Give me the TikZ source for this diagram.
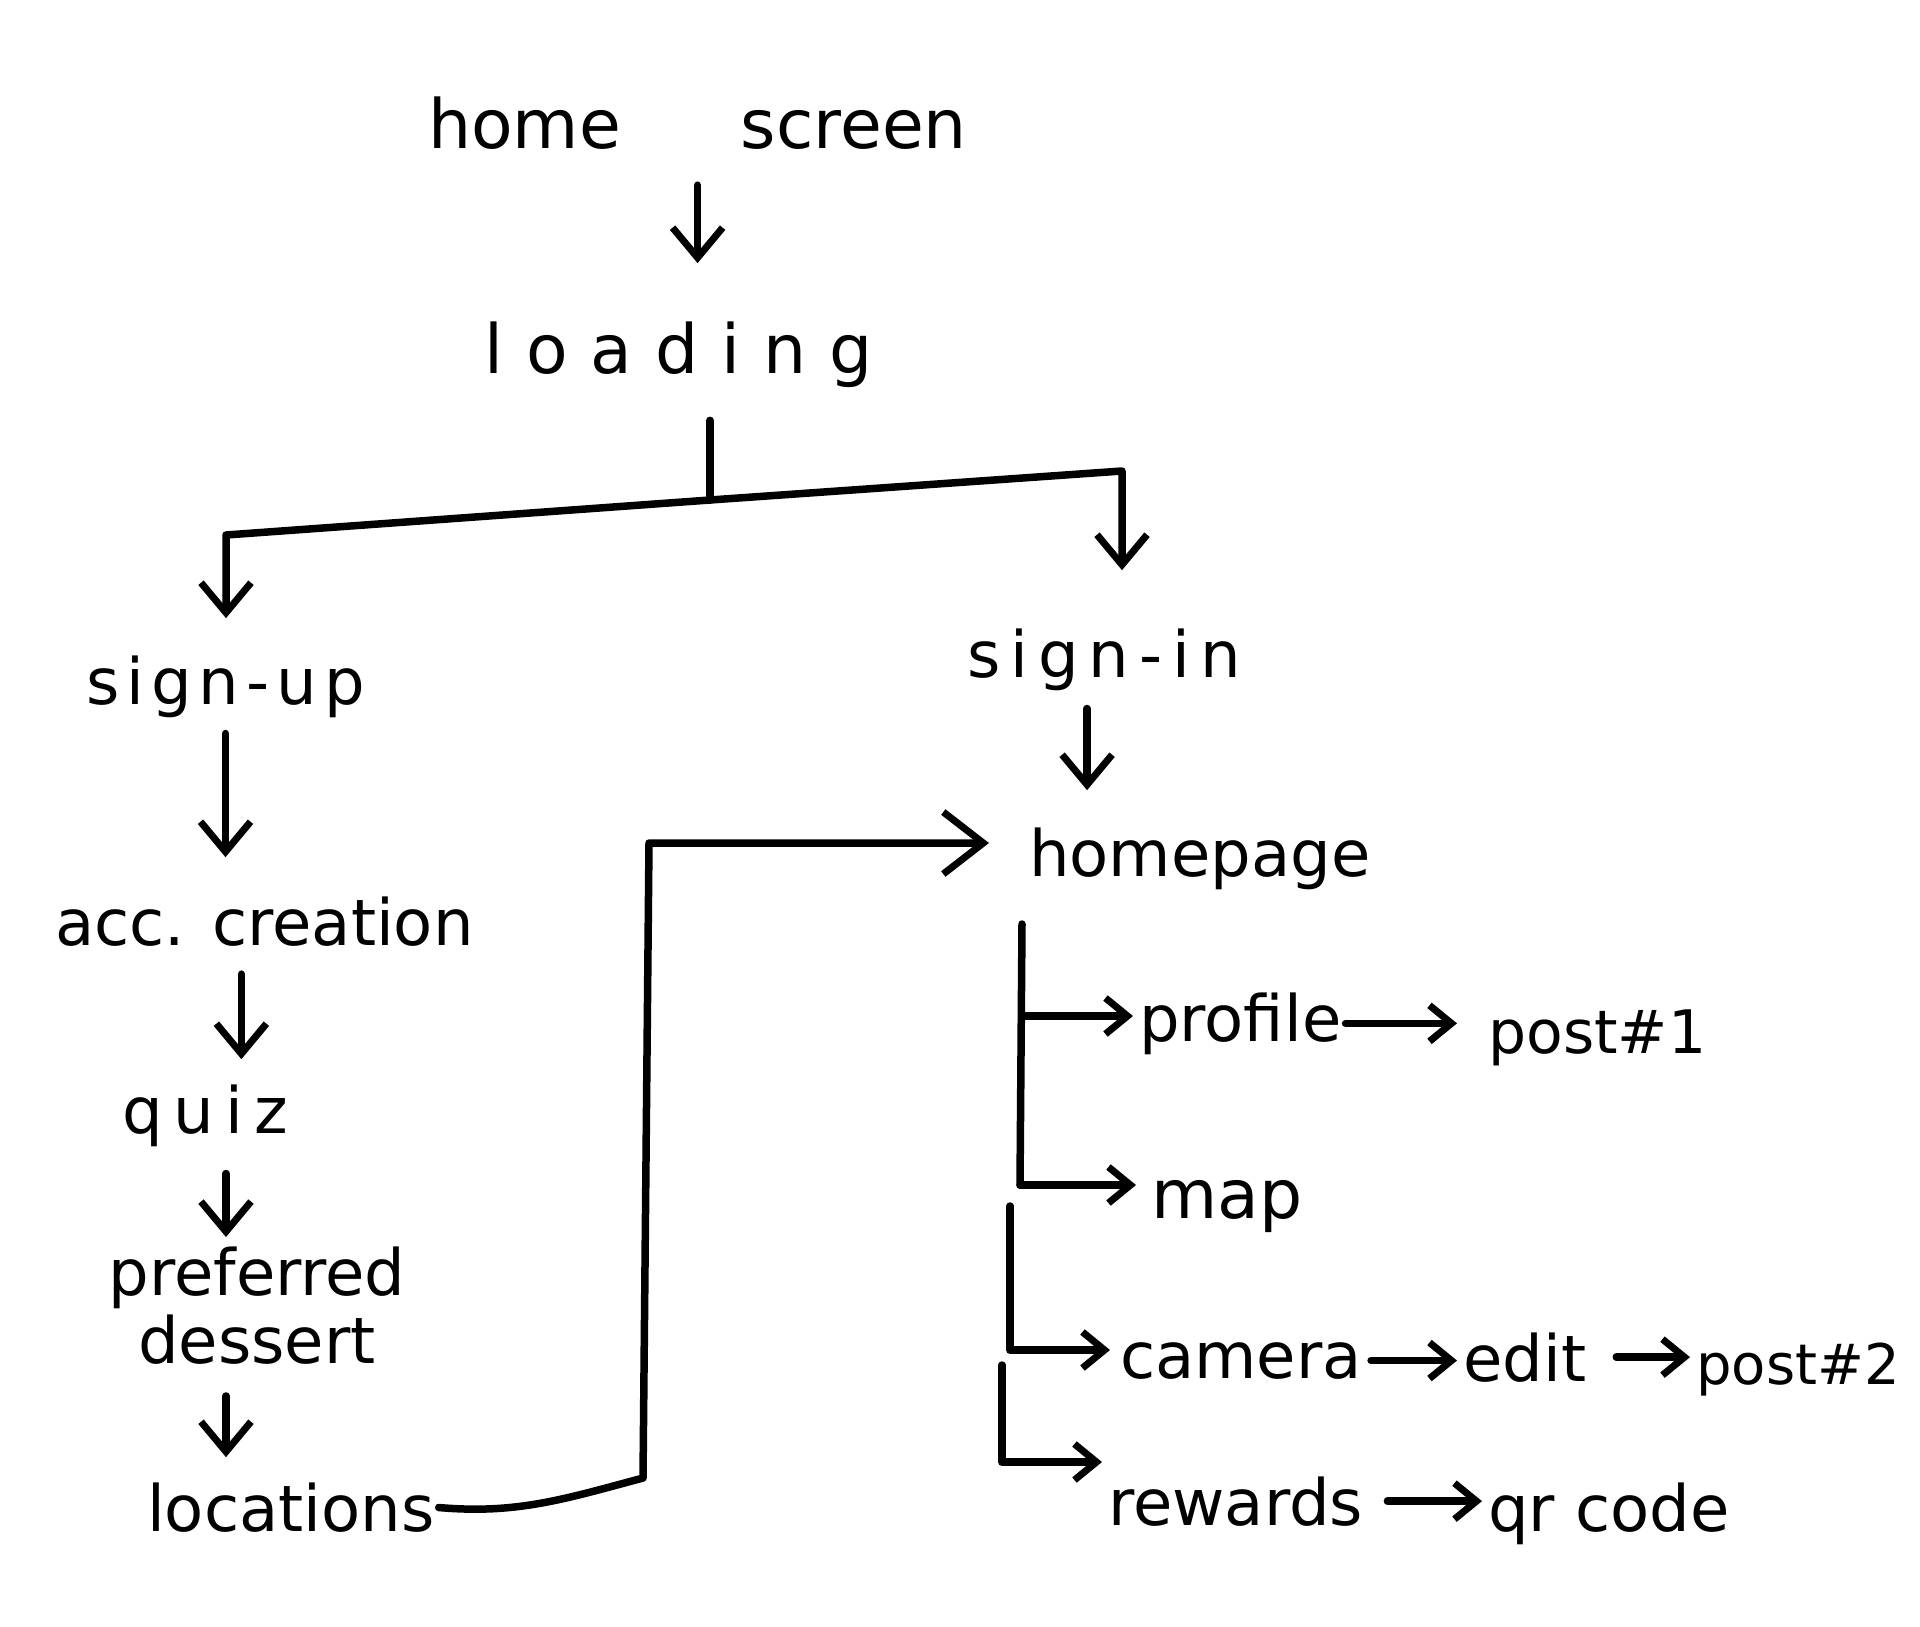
\documentclass[tikz,border=0pt]{standalone}
\usepackage{fontspec}
\setmainfont{DejaVu Sans}
\usetikzlibrary{arrows.meta}
\newdimen\lsp
\newcommand\K{\kern\lsp}
\begin{document}
\begin{tikzpicture}[x=1pt,y=-1pt,
  lbl/.style={inner sep=0pt, font=\fontsize{64}{68}\selectfont, anchor=base west, text=black},
  ln/.style={line width=7.5pt, line cap=round, line join=round},
  arr/.style={ln, -{Straight Barb[length=30pt,width=50pt,line width=7pt]}},
  barr/.style={ln, -{Straight Barb[length=40pt,width=62pt,line width=7pt]}},
  sarr/.style={ln, -{Straight Barb[length=22pt,width=36pt,line width=7pt]}}]
\path[use as bounding box, fill=white] (0,0) rectangle (1920,1626);

% labels
\node[lbl, font=\fontsize{68}{72}\selectfont] (hs) at (428,148) {home\hspace{120pt}screen};
\node[lbl, font=\fontsize{68}{72}\selectfont] (ld) at (484,373) {\lsp=23pt l\K o\K a\K d\K i\K n\K g};
\node[lbl] (su) at (86,704) {\lsp=7pt s\K i\K g\K n\K -\K u\K p};
\node[lbl] (si) at (967,677) {\lsp=10pt s\K i\K g\K n\K -\K i\K n};
\node[lbl] (acc) at (55,945) {acc. creation};
\node[lbl] (qz) at (122,1133) {\lsp=11pt q\K u\K i\K z};
\node[lbl, anchor=center, align=center] (pd) at (257,1306) {preferred\\dessert};
\node[lbl] (loc) at (147,1531) {locations};
\node[lbl] (hp) at (1029,876) {homepage};
\node[lbl] (pr) at (1139,1041) {profile};
\node[lbl, font=\fontsize{60}{64}\selectfont] (p1) at (1488,1053) {post\#1};
\node[lbl, font=\fontsize{68}{72}\selectfont] (mp) at (1151,1218) {map};
\node[lbl] (cam) at (1120,1378) {camera};
\node[lbl] (ed) at (1463,1381) {edit};
\node[lbl, font=\fontsize{56}{60}\selectfont] (p2) at (1696,1384) {post\#2};
\node[lbl] (rw) at (1108,1525) {rewards};
\node[lbl] (qr) at (1488,1531) {qr code};

% junction points
\coordinate (jm) at (710,500);
\coordinate (jl) at (226,535);
\coordinate (jr) at (1122,471);
\coordinate (c1) at (643,1478);
\coordinate (c2) at (649,843);
\coordinate (t1a) at (1022,924);
\coordinate (b1) at (1022,1016);
\coordinate (t1b) at (1020,1185);
\coordinate (t2a) at (1010,1206);
\coordinate (t2b) at (1010,1350);
\coordinate (t3a) at (1002,1365);
\coordinate (t3b) at (1002,1462);

% top
\draw[arr, shorten <=36pt, shorten >=58pt] (hs.south) -- (hs.south |- ld.north);
\draw[ln, shorten <=33pt] (ld.south -| jm) -- (jm);
\draw[arr, shorten >=37pt] (jm) -- (jl) -- (jl |- su.north);
\draw[arr, shorten >=58pt] (jm) -- (jr) -- (jr |- si.north);
\draw[arr, shorten <=18pt, shorten >=37pt] ([xshift=-17pt]si.south) -- ([xshift=-17pt]si.south |- hp.north);

% left column
\draw[arr, shorten <=16pt, shorten >=39pt] (su.south) -- (su.south |- acc.north);
\draw[arr, shorten <=28pt, shorten >=25pt] ([xshift=-23pt]acc.south) -- ([xshift=-23pt]acc.south |- qz.north);
\draw[arr, shorten <=27pt, shorten >=10pt] ([xshift=21pt]qz.south) -- ([xshift=21pt]qz.south |- pd.north);
\draw[arr, shorten <=31pt, shorten >=25pt] ([xshift=-31pt]pd.south) -- ([xshift=-31pt]pd.south |- loc.north);

% locations -> homepage
\draw[barr, shorten <=4pt, shorten >=40pt] (loc.east) to[out=-5,in=195] (c1) -- (c2) -- (c2 -| hp.west);

% homepage tree
\draw[ln] (t1a) -- (t1b);
\draw[sarr, shorten >=6pt] (b1) -- (b1 -| pr.west);
\draw[sarr, shorten >=15pt] (t1b) -- (t1b -| mp.west);
\draw[sarr, shorten >=10pt] (t2a) -- (t2b) -- (t2b -| cam.west);
\draw[sarr, shorten >=6pt] (t3a) -- (t3b) -- (t3b -| rw.west);

% chains
\draw[sarr, shorten <=4pt, shorten >=31pt] (pr.east) -- (pr.east -| p1.west);
\draw[sarr, shorten <=9pt, shorten >=6pt] (cam.east) -- (cam.east -| ed.west);
\draw[sarr, shorten <=30pt, shorten >=6pt] (ed.east) -- (ed.east -| p2.west);
\draw[sarr, shorten <=24pt, shorten >=6pt] (rw.east) -- (rw.east -| qr.west);
\end{tikzpicture}
\end{document}
